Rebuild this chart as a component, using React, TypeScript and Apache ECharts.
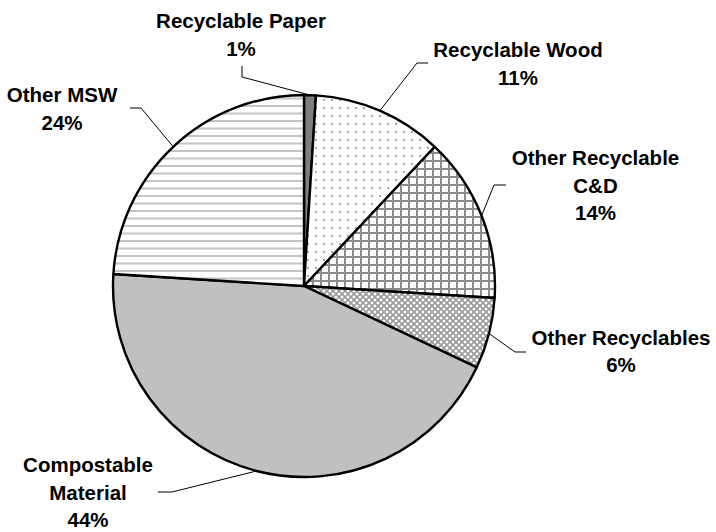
import { useEffect, useRef } from 'react';
import * as echarts from 'echarts';

// Waste composition shares (percent of total)
const categories = [
  'Recyclable Paper',
  'Recyclable Wood',
  'Other Recyclable\nC&D',
  'Other Recyclables',
  'Compostable\nMaterial',
  'Other MSW',
];
const shares = [1, 11, 14, 6, 44, 24];

// Where each callout sits: label centre, leader elbow and leader end
const calloutSpots = [
  { x: 241, y: 34.5, elbow: [242, 77], end: [242, 66] },
  { x: 518, y: 63.5, elbow: [417, 63], end: [428, 63] },
  { x: 595.5, y: 185, elbow: [494, 185], end: [506, 185] },
  { x: 621, y: 351, elbow: [515, 352], end: [526, 352] },
  { x: 88, y: 492, elbow: [172, 492], end: [158, 492] },
  { x: 62, y: 108.5, elbow: [141, 108], end: [130, 108] },
];

type Painter = (ctx: CanvasRenderingContext2D) => void;

function tile(w: number, h: number, paint: Painter) {
  const c = document.createElement('canvas');
  c.width = w;
  c.height = h;
  const ctx = c.getContext('2d')!;
  ctx.fillStyle = '#ffffff';
  ctx.fillRect(0, 0, w, h);
  paint(ctx);
  return { image: c.toDataURL(), repeat: 'repeat', imageWidth: w, imageHeight: h };
}

function buildFills() {
  const dots = tile(8, 8, (ctx) => {
    ctx.fillStyle = '#a6a6a6';
    ctx.fillRect(3, 3, 2, 2);
  });
  const grid = tile(8, 8, (ctx) => {
    ctx.fillStyle = '#8c8c8c';
    ctx.fillRect(0, 0, 8, 2);
    ctx.fillRect(0, 0, 2, 8);
  });
  const diamonds = tile(6, 6, (ctx) => {
    ctx.strokeStyle = '#9a9a9a';
    ctx.lineWidth = 1.6;
    ctx.beginPath();
    ctx.moveTo(-1, -1);
    ctx.lineTo(7, 7);
    ctx.moveTo(7, -1);
    ctx.lineTo(-1, 7);
    ctx.stroke();
  });
  const stripes = tile(8, 15, (ctx) => {
    ctx.fillStyle = '#c4c4c4';
    ctx.fillRect(0, 0, 8, 2);
    ctx.fillRect(0, 7.5, 8, 2);
  });
  return ['#7f7f7f', dots, grid, diamonds, '#c0c0c0', stripes];
}

export default function App() {
  const ref = useRef<HTMLDivElement>(null);

  useEffect(() => {
    if (!ref.current) return;
    const chart = echarts.init(ref.current, null, { renderer: 'svg' });
    const fills = buildFills();

    chart.setOption({
      animation: false,
      backgroundColor: '#ffffff',
      series: [
        {
          type: 'pie',
          center: [304, 286],
          radius: 191,
          startAngle: 90,
          clockwise: true,
          avoidLabelOverlap: false,
          emphasis: { disabled: true },
          itemStyle: { borderColor: '#000000', borderWidth: 2.4 },
          label: {
            show: true,
            position: 'outside',
            formatter: '{b}\n{c}%',
            color: '#000000',
            fontFamily: '"Liberation Sans", Arial, sans-serif',
            fontWeight: 'bold',
            fontSize: 20.5,
            lineHeight: 27.5,
            align: 'center',
          },
          labelLine: {
            show: true,
            length: 10,
            length2: 10,
            lineStyle: { color: '#000000', width: 1 },
          },
          labelLayout: (params: any) => {
            const spot = calloutSpots[params.dataIndex];
            const start = params.labelLinePoints
              ? params.labelLinePoints[0]
              : spot.elbow;
            return {
              x: spot.x,
              y: spot.y,
              align: 'center',
              verticalAlign: 'middle',
              labelLinePoints: [start, spot.elbow, spot.end],
            };
          },
          data: categories.map((name, i) => ({
            name,
            value: shares[i],
            itemStyle: { color: fills[i] },
          })),
        },
      ],
    });

    return () => chart.dispose();
  }, []);

  return (
    <div
      ref={ref}
      style={{ position: 'fixed', left: 0, top: 0, width: 716, height: 532 }}
    />
  );
}
